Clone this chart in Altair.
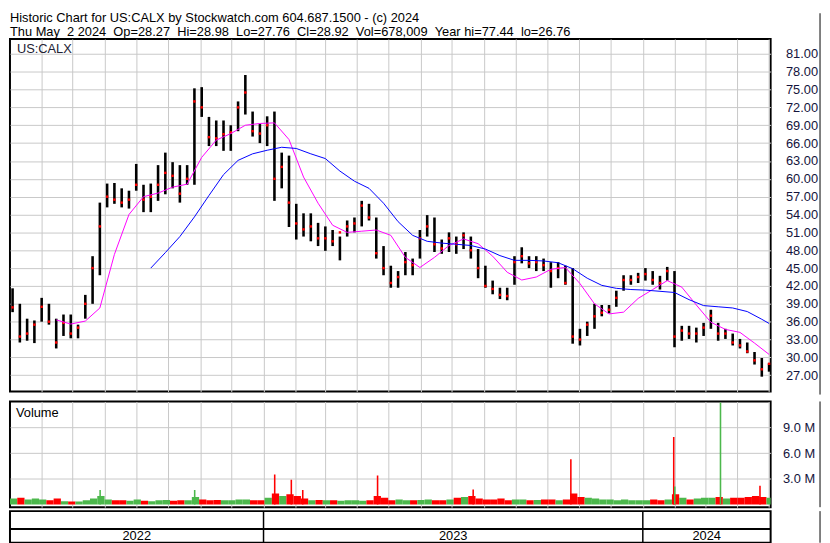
import altair as alt
import pandas as pd

FIRST_MONDAY = "2022-05-02"

high = [41.6, 39.0, 36.5, 36.2, 40.0, 39.0, 36.5, 37.2, 37.2, 35.5,
        40.5, 47.0, 56.0, 59.2, 59.3, 58.4, 58.0, 62.5, 59.0, 59.2,
        62.3, 64.4, 62.8, 62.3, 62.3, 75.2, 75.4, 70.4, 69.8, 69.8,
        69.0, 73.0, 77.44, 71.3, 69.2, 70.5, 71.3, 64.4, 63.9, 55.8,
        54.2, 54.2, 52.6, 52.0, 51.4, 50.3, 53.0, 53.5, 56.3, 55.8,
        53.5, 48.7, 45.4, 44.5, 47.7, 46.6, 51.4, 53.9, 53.5, 49.8,
        51.0, 50.3, 51.0, 50.3, 48.2, 45.4, 42.9, 41.7, 41.7, 47.0,
        48.5, 47.0, 47.0, 46.6, 46.0, 46.0, 45.4, 45.0, 34.8, 36.0,
        39.0, 38.8, 38.8, 41.2, 43.8, 43.8, 44.2, 45.0, 44.5, 43.7,
        45.2, 44.5, 35.3, 35.3, 35.0, 35.8, 38.0, 35.8, 34.8, 34.0,
        33.1, 32.5, 30.9, 29.9, 29.0]
low = [37.6, 32.5, 32.8, 32.4, 36.0, 35.5, 31.5, 33.6, 33.2, 33.2,
       36.5, 39.0, 43.8, 55.2, 55.8, 55.2, 55.0, 58.0, 54.4, 54.4,
       56.3, 57.4, 58.4, 56.0, 59.0, 59.0, 70.4, 65.5, 65.5, 64.7,
       64.7, 68.0, 70.8, 67.1, 66.0, 65.5, 56.3, 58.4, 51.9, 49.8,
       50.3, 49.5, 48.7, 47.9, 48.7, 46.3, 50.3, 51.0, 52.0, 53.0,
       46.6, 43.8, 41.7, 41.7, 43.8, 43.8, 46.6, 50.3, 47.7, 47.4,
       47.7, 47.4, 48.2, 46.6, 43.3, 41.7, 40.6, 39.8, 39.6, 42.2,
       45.8, 45.0, 44.5, 44.5, 41.7, 43.3, 42.2, 32.3, 32.0, 33.6,
       34.8, 36.9, 37.4, 38.5, 41.2, 42.2, 42.5, 42.9, 42.2, 41.4,
       42.9, 31.7, 32.8, 33.1, 32.5, 33.6, 34.8, 32.8, 33.1, 32.0,
       31.5, 30.7, 28.8, 26.76, 27.6]
close = [38.4, 33.5, 34.0, 35.5, 38.5, 36.0, 32.5, 35.8, 34.0, 35.0,
         39.0, 45.0, 52.0, 57.0, 56.5, 56.0, 56.5, 59.0, 56.5, 57.0,
         59.0, 61.0, 60.5, 57.5, 60.0, 73.0, 72.0, 67.0, 66.8, 67.5,
         67.8, 72.0, 74.5, 68.0, 67.6, 69.0, 60.0, 62.0, 56.0, 52.5,
         51.5, 52.0, 50.0, 50.0, 49.5, 51.0, 52.0, 52.5, 55.5, 53.5,
         47.5, 45.0, 42.5, 43.5, 46.0, 45.5, 50.0, 52.0, 49.0, 48.3,
         50.0, 49.0, 50.5, 48.0, 45.0, 42.0, 41.5, 40.5, 40.3, 46.0,
         47.0, 45.8, 46.0, 45.5, 44.5, 45.0, 42.5, 33.5, 33.0, 35.5,
         36.9, 37.5, 38.0, 40.0, 43.0, 43.0, 43.5, 44.0, 43.0, 42.5,
         44.5, 33.5, 34.5, 34.0, 34.0, 35.0, 37.0, 34.0, 34.0, 32.5,
         32.0, 31.0, 29.5, 28.0, 28.92]
volume_m = [0.7, 0.8, 0.6, 0.7, 0.6, 0.5, 0.7, 0.4, 0.35, 0.35, 0.5, 0.7,
            1.0, 0.6, 0.5, 0.5, 0.45, 0.6, 0.45, 0.4, 0.5, 0.55, 0.45, 0.5,
            0.5, 0.9, 0.6, 0.5, 0.55, 0.5, 0.5, 0.6, 0.6, 0.5, 0.5, 0.8,
            1.3, 1.0, 1.2, 1.0, 0.7, 0.5, 0.55, 0.5, 0.5, 0.45, 0.5, 0.5,
            0.45, 0.5, 1.0, 0.8, 0.5, 0.6, 0.5, 0.5, 0.55, 0.6, 0.5, 0.5,
            0.6, 0.8, 0.9, 1.0, 0.7, 0.6, 0.6, 0.7, 0.5, 0.6, 0.6, 0.5,
            0.55, 0.6, 0.6, 0.5, 0.6, 1.3, 0.9, 0.8, 0.7, 0.6, 0.6, 0.5,
            0.6, 0.5, 0.5, 0.5, 0.6, 0.5, 0.6, 1.2, 0.8, 0.6, 0.7, 0.8,
            0.8, 0.9, 0.7, 0.8, 0.8, 0.9, 1.0, 0.9, 0.8]

ma50_week = list(range(6, 105, 2))
ma50 = [36.3, 35.6, 36.1, 38.3, 47.3, 54.0, 57.0, 57.6, 58.6, 59.1,
        63.6, 66.5, 67.6, 69.0, 69.3, 69.4, 66.6, 60.3, 55.9, 52.2,
        51.0, 51.2, 51.4, 50.5, 46.8, 45.1, 46.8, 48.8, 49.9, 49.1,
        47.0, 44.3, 43.0, 43.5, 44.8, 45.1, 42.4, 39.0, 37.3, 37.6,
        39.9, 41.4, 42.9, 41.8, 38.8, 35.9, 34.7, 34.2, 32.4, 30.5]
ma200_week = list(range(19, 104, 2)) + [104]
ma200 = [45.0, 47.6, 50.3, 53.6, 57.2, 60.7, 63.1, 64.2, 64.8, 65.3,
         65.1, 64.2, 63.4, 61.3, 59.6, 58.4, 55.9, 52.8, 50.5, 49.5,
         49.2, 49.0, 48.8, 48.2, 47.1, 46.3, 46.3, 46.2, 45.9, 44.9,
         43.3, 42.1, 41.6, 41.4, 41.3, 41.1, 40.9, 39.7, 38.7, 38.5,
         38.3, 37.7, 36.4, 35.7]

spike_day = ["2022-07-27", "2022-10-26", "2023-01-11", "2023-01-27", "2023-02-07",
             "2023-04-20", "2023-07-21", "2023-10-23", "2024-01-30", "2024-01-31",
             "2024-03-15", "2024-04-22"]
spike_vol_m = [1.7, 1.7, 3.5, 2.9, 1.7, 3.4, 1.75, 5.3, 7.9, 2.1, 11.9, 2.2]
spike_dir = ["up", "up", "down", "down", "down", "down", "down", "down", "down",
             "up", "up", "down"]

year_labels = ["2022", "2023", "2024"]
year_bounds = ["2022-05-02", "2023-01-01", "2024-01-01", "2024-05-03"]
price_ticks = list(range(27, 82, 3))
vol_ticks = [3e6, 6e6, 9e6]

header1 = "Historic Chart for US:CALX by Stockwatch.com 604.687.1500 - (c) 2024"
header2 = "Thu May  2 2024  Op=28.27  Hi=28.98  Lo=27.76  Cl=28.92  Vol=678,009  Year hi=77.44  lo=26.76"

RED = "#ff0000"
GREEN = "#4cb84c"
GRID = "#c8c8c8"
FONT = "Liberation Sans"
W = 770
H_PRICE = 357
H_VOL = 107
H_YEAR = 32


def iso(ts):
    return ts.strftime("%Y-%m-%dT%H:%M:%SZ")


monday = pd.Timestamp(FIRST_MONDAY)
n = len(close)
prev = [close[0]] + close[:-1]
weeks = pd.DataFrame({
    "high": high, "low": low, "close": close,
    "vol": [v * 1e6 for v in volume_m],
    "mid": [iso(monday + pd.Timedelta(days=7 * k + 2, hours=12)) for k in range(n)],
    "ws": [iso(monday + pd.Timedelta(days=7 * k)) for k in range(n)],
    "we": [iso(monday + pd.Timedelta(days=7 * k + 7)) for k in range(n)],
    "dir": ["up" if c >= p else "down" for c, p in zip(close, prev)],
})
ma50_df = pd.DataFrame({
    "date": [iso(monday + pd.Timedelta(days=7 * k + 2, hours=12)) for k in ma50_week],
    "v": ma50})
ma200_df = pd.DataFrame({
    "date": [iso(monday + pd.Timedelta(days=7 * k + 2, hours=12)) for k in ma200_week],
    "v": ma200})
spikes = pd.DataFrame({
    "d": [iso(pd.Timestamp(d)) for d in spike_day],
    "d2": [iso(pd.Timestamp(d) + pd.Timedelta(hours=36)) for d in spike_day],
    "vol": [v * 1e6 for v in spike_vol_m],
    "dir": spike_dir})
bounds = [pd.Timestamp(b) for b in year_bounds]
years = pd.DataFrame({
    "label": year_labels,
    "mid": [iso(bounds[i] + (bounds[i + 1] - bounds[i]) / 2) for i in range(3)]})
seps = pd.DataFrame({"d": [iso(b) for b in bounds[1:3]]})
one = pd.DataFrame({"t": ["US:CALX"]})
one_v = pd.DataFrame({"t": ["Volume"]})
head1 = pd.DataFrame({"t": [header1]})
head2 = pd.DataFrame({"t": [header2.replace(" ", "\u00a0")]})

xscale = alt.Scale(type="utc", domain=[alt.DateTime(year=2022, month=5, date=2, utc=True),
                                      alt.DateTime(year=2024, month=5, date=3, utc=True)])
xaxis = alt.Axis(title=None, labels=False, ticks=False, domain=False, grid=True,
                 gridColor=GRID, tickCount={"interval": "month", "step": 1})
dir_color = alt.Color("dir:N", scale=alt.Scale(domain=["up", "down"], range=[GREEN, RED]),
                      legend=None)

# ---------- price panel ----------
yscale = alt.Scale(domain=[24.25, 83.5], zero=False, nice=False)
yaxis = alt.Axis(title=None, orient="right", values=price_ticks, format=".2f", grid=True,
                 gridColor=GRID, ticks=False, domain=False, labelPadding=15,
                 labelOverlap=False, labelFontSize=13, labelColor="#14143c", labelFont=FONT)
base = alt.Chart(weeks)
bars = base.mark_rule(color="black", strokeWidth=2.6).encode(
    x=alt.X("mid:T", scale=xscale, axis=xaxis),
    y=alt.Y("low:Q", scale=yscale, axis=yaxis),
    y2="high:Q")
closes = base.mark_square(color=RED, size=6, opacity=1).encode(
    x=alt.X("mid:T", scale=xscale, axis=xaxis), y=alt.Y("close:Q", scale=yscale, axis=yaxis))
l50 = alt.Chart(ma50_df).mark_line(color="#ff00ff", strokeWidth=1).encode(
    x=alt.X("date:T", scale=xscale, axis=xaxis), y=alt.Y("v:Q", scale=yscale, axis=yaxis))
l200 = alt.Chart(ma200_df).mark_line(color="#0000ff", strokeWidth=1).encode(
    x=alt.X("date:T", scale=xscale, axis=xaxis), y=alt.Y("v:Q", scale=yscale, axis=yaxis))
sym = alt.Chart(one).mark_text(align="left", baseline="middle", fontSize=13, font=FONT,
                                color="#222233").encode(
    x=alt.value(7), y=alt.value(10), text="t:N")
h1 = alt.Chart(head1).mark_text(align="left", baseline="top", fontSize=13, font=FONT,
                                color="black").encode(x=alt.value(0), y=alt.value(-27), text="t:N")
h2 = alt.Chart(head2).mark_text(align="left", baseline="top", fontSize=13, font=FONT,
                                color="black").encode(x=alt.value(0), y=alt.value(-13), text="t:N")
frame_p = alt.Chart(one).mark_rule(color="black", strokeWidth=1).encode(
    x=alt.value(820), y=alt.value(-26), y2=alt.value(H_PRICE + 3))
price = alt.layer(bars, closes, l50, l200, sym, h1, h2, frame_p).properties(
    width=W, height=H_PRICE)

# ---------- volume panel ----------
vscale = alt.Scale(domain=[-0.3e6, 12.03e6], zero=False, nice=False)
vaxis = alt.Axis(title=None, orient="right", values=vol_ticks,
                 labelExpr="format(datum.value / 1000000, '.1f') + ' M'", grid=True,
                 gridColor=GRID, ticks=False, domain=False, labelPadding=12,
                 labelOverlap=False, labelFontSize=13, labelColor="#14143c", labelFont=FONT)
vbars = alt.Chart(weeks).mark_bar(clip=True).encode(
    x=alt.X("ws:T", scale=xscale, axis=xaxis), x2="we:T",
    y=alt.Y("vol:Q", scale=vscale, axis=vaxis), y2=alt.value(H_VOL),
    color=dir_color)
vspk = alt.Chart(spikes).mark_bar(clip=True).encode(
    x=alt.X("d:T", scale=xscale, axis=xaxis), x2="d2:T",
    y=alt.Y("vol:Q", scale=vscale, axis=vaxis),
    y2=alt.value(H_VOL), color=dir_color)
vlab = alt.Chart(one_v).mark_text(align="left", baseline="middle", fontSize=13, font=FONT,
                                  color="black").encode(x=alt.value(6), y=alt.value(12), text="t:N")
frame_v = alt.Chart(one_v).mark_rule(color="black", strokeWidth=1).encode(
    x=alt.value(820), y=alt.value(0), y2=alt.value(H_VOL))
volume = alt.layer(vbars, vspk, vlab, frame_v).properties(width=W, height=H_VOL)

# ---------- year band ----------
ysep = alt.Chart(seps).mark_rule(color="black", strokeWidth=1.5).encode(
    x=alt.X("d:T", scale=xscale, axis=None))
yline = alt.Chart(one).mark_rule(color="black", strokeWidth=2).encode(
    x=alt.value(0), x2=alt.value(W), y=alt.value(18))
ytext = alt.Chart(years).mark_text(baseline="middle", fontSize=13, font=FONT, color="black").encode(
    x=alt.X("mid:T", scale=xscale, axis=None), y=alt.value(25.5), text="label:N")
frame_y = alt.Chart(one).mark_rule(color="black", strokeWidth=1).encode(
    x=alt.value(820), y=alt.value(0), y2=alt.value(H_YEAR))
yearband = alt.layer(ysep, yline, ytext, frame_y).properties(width=W, height=H_YEAR)

chart = alt.vconcat(
    price,
    alt.vconcat(volume, yearband, spacing=0),
    spacing=3,
).properties(
    padding=0,
).configure(font=FONT).configure_view(stroke="black", strokeWidth=2).configure_axisY(
    labelOverlap=False)

chart.save("out.html", embed_options={"renderer": "svg", "actions": False})
